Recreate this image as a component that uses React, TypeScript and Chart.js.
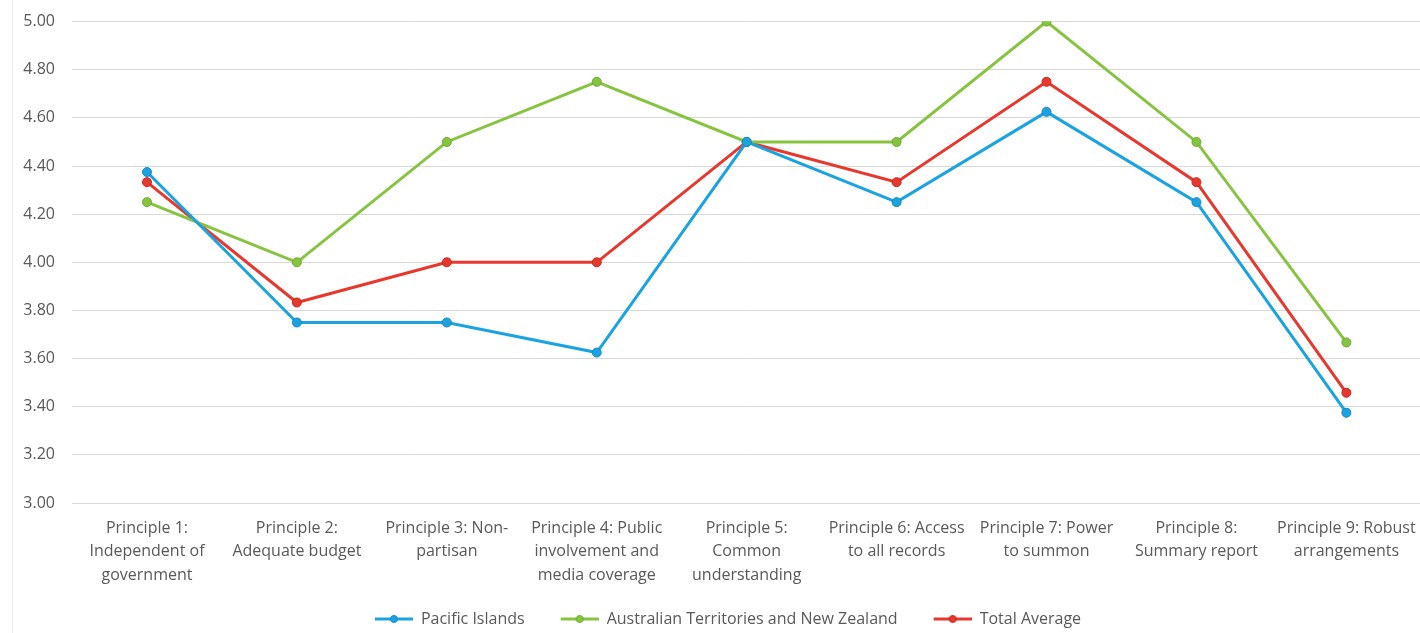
import React, { useEffect, useRef } from "react";
import { Chart, registerables } from "chart.js";

Chart.register(...registerables);

const categories: string[][] = [
  ["Principle 1:", "Independent of", "government"],
  ["Principle 2:", "Adequate budget"],
  ["Principle 3: Non-", "partisan"],
  ["Principle 4: Public", "involvement and", "media coverage"],
  ["Principle 5:", "Common", "understanding"],
  ["Principle 6: Access", "to all records"],
  ["Principle 7: Power", "to summon"],
  ["Principle 8:", "Summary report"],
  ["Principle 9: Robust", "arrangements"],
];

const pacificIslands = [4.375, 3.75, 3.75, 3.625, 4.5, 4.25, 4.625, 4.25, 3.375];
const australiaNZ = [4.25, 4.0, 4.5, 4.75, 4.5, 4.5, 5.0, 4.5, 3.667];
const totalAverage = [4.333, 3.833, 4.0, 4.0, 4.5, 4.333, 4.75, 4.333, 3.458];

const seriesNames = ["Pacific Islands", "Australian Territories and New Zealand", "Total Average"];
const seriesColors = ["#1aa3e0", "#86c440", "#e8382e"];
const seriesBorders = ["#1688c0", "#6ea830", "#c02a22"];

const yMin = 3.0;
const yMax = 5.0;
const yStep = 0.2;

const ICON_GAP = 26;
const ICON_LINE = 38;

function legendIcon(color: string, border: string): HTMLCanvasElement {
  const c = document.createElement("canvas");
  c.width = ICON_LINE + ICON_GAP;
  c.height = 10;
  const ctx = c.getContext("2d")!;
  const x0 = ICON_GAP;
  ctx.strokeStyle = color;
  ctx.lineWidth = 3;
  ctx.beginPath();
  ctx.moveTo(x0, 5);
  ctx.lineTo(x0 + ICON_LINE, 5);
  ctx.stroke();
  ctx.fillStyle = color;
  ctx.strokeStyle = border;
  ctx.lineWidth = 1;
  ctx.beginPath();
  ctx.arc(x0 + ICON_LINE / 2, 5, 3.5, 0, Math.PI * 2);
  ctx.fill();
  ctx.stroke();
  return c;
}

const FONT = "Open Sans";

export default function App() {
  const ref = useRef<HTMLCanvasElement>(null);

  useEffect(() => {
    const values = [pacificIslands, australiaNZ, totalAverage];
    const icons = seriesColors.map((c, i) => legendIcon(c, seriesBorders[i]));
    const chart = new Chart(ref.current!, {
      type: "line",
      data: {
        labels: categories,
        datasets: values.map((v, i) => ({
          label: seriesNames[i],
          data: v,
          borderColor: seriesColors[i],
          backgroundColor: seriesColors[i],
          pointBackgroundColor: seriesColors[i],
          pointBorderColor: seriesBorders[i],
          pointBorderWidth: 1,
          pointRadius: 4.5,
          borderWidth: 3,
          tension: 0,
          pointStyle: "circle",
        })),
      },
      options: {
        animation: false,
        responsive: false,
        maintainAspectRatio: false,
        layout: { padding: { top: 4, right: 0, left: 0, bottom: -4 } },
        plugins: {
          tooltip: { enabled: false },
          legend: {
            position: "bottom",
            labels: {
              color: "#595959",
              font: { family: FONT, size: 16 },
              usePointStyle: true,
              pointStyleWidth: ICON_LINE + ICON_GAP,
              padding: 10,
              generateLabels: (chart: any) =>
                chart.data.datasets.map((ds: any, i: number) => ({
                  text: ds.label,
                  fillStyle: seriesColors[i],
                  strokeStyle: seriesColors[i],
                  pointStyle: icons[i],
                  datasetIndex: i,
                  hidden: false,
                  fontColor: "#595959",
                })),
            },
          },
        },
        scales: {
          x: {
            offset: true,
            grid: { display: false, drawTicks: false },
            border: { display: true, color: "#d9d9d9" },
            ticks: {
              color: "#595959",
              font: { family: FONT, size: 16, lineHeight: 1.45 },
              maxRotation: 0,
              autoSkip: false,
              padding: 14,
            },
            afterFit: (scale: any) => {
              scale.height = 98;
            },
          },
          y: {
            min: yMin,
            max: yMax,
            border: { display: false },
            grid: { color: "#d9d9d9", lineWidth: 1, drawTicks: false },
            ticks: {
              stepSize: yStep,
              color: "#595959",
              font: { family: FONT, size: 16 },
              padding: 17,
              callback: (v: any) => Number(v).toFixed(2),
            },
            afterFit: (scale: any) => {
              scale.width = 72;
            },
          },
        },
      },
    });
    return () => chart.destroy();
  }, []);

  return (
    <div
      style={{
        position: "fixed",
        left: 0,
        top: 0,
        width: 1420,
        height: 633,
        background: "#fff",
        overflow: "hidden",
      }}
    >
      <div style={{ position: "absolute", left: 12, top: 0, width: 1, height: 633, background: "#eeeeee" }} />
      <canvas ref={ref} width={1430} height={638} style={{ position: "absolute", left: 0, top: -5 }} />
    </div>
  );
}
